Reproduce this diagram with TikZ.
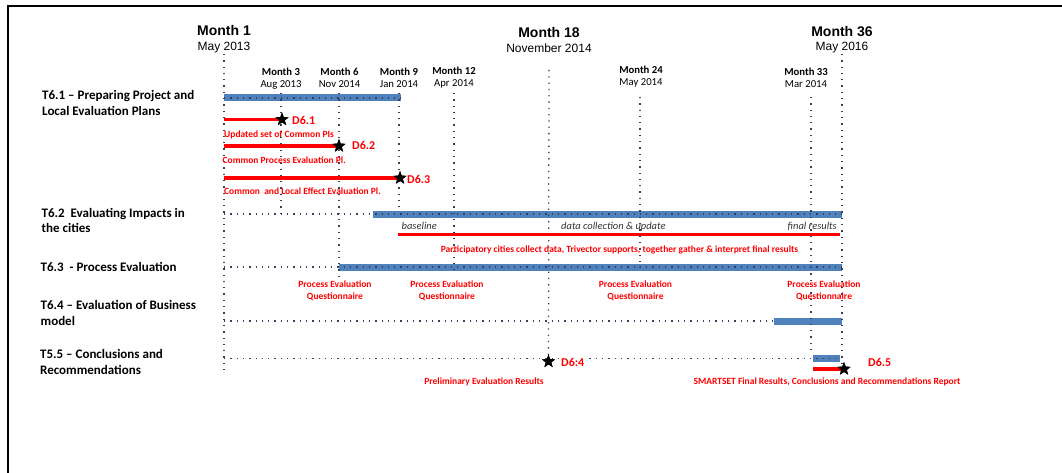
\documentclass[tikz,border=0pt]{standalone}
\usepackage{fontspec}
\setmainfont{Carlito}
\newfontfamily\arialf{Liberation Sans}
\usetikzlibrary{shapes.geometric}
\definecolor{barblue}{HTML}{4F81BD}
\definecolor{dotc}{HTML}{3C3C5C}
\definecolor{phasec}{HTML}{333333}
\begin{document}
\begin{tikzpicture}[x=1pt,y=-1pt,
  dotline/.style={dotc, line width=1.3pt, dash pattern=on 1.3pt off 5pt},
  bar/.style={barblue, line width=7pt},
  redline/.style={red, line width=3.5pt},
  mstar/.style={star, star points=5, star point ratio=2.4, fill=black, inner sep=0pt, minimum size=14pt},
  bigm/.style={font=\arialf\bfseries\fontsize{14}{16}\selectfont, anchor=base, inner sep=0pt},
  bigd/.style={font=\arialf\fontsize{12}{14}\selectfont, anchor=base, inner sep=0pt},
  smallm/.style={font=\bfseries\fontsize{10.7}{12}\selectfont, anchor=base, inner sep=0pt},
  smalld/.style={font=\fontsize{10.7}{12}\selectfont, anchor=base, inner sep=0pt},
  task/.style={font=\bfseries\fontsize{13}{15}\selectfont, anchor=base west, inner sep=0pt},
  dlabel/.style={red, font=\bfseries\fontsize{12}{14}\selectfont, anchor=base west, inner sep=0pt},
  note/.style={red, font=\bfseries\fontsize{9.5}{11}\selectfont, inner sep=0pt},
  phase/.style={phasec, font=\itshape\fontsize{10.5}{12}\selectfont, anchor=base west, inner sep=0pt}
]
\useasboundingbox (0,0) rectangle (1062,473);
\draw[line width=2pt] (8,473) -- (8,6) -- (1062,6);

% ---- headers
\node[bigm] (h1) at (224,36) {Month 1};
\node[bigd] (h1d) at (224,51) {May 2013};
\node[bigm] (h18) at (549,38) {Month 18};
\node[bigd] (h18d) at (549,53) {November 2014};
\node[bigm] (h36) at (842,37) {Month 36};
\node[bigd] (h36d) at (842,51) {May 2016};

\node[smallm] (m3) at (281,76) {Month 3};
\node[smalld] (m3d) at (281,88) {Aug 2013};
\node[smallm] (m6) at (339.5,76) {Month 6};
\node[smalld] (m6d) at (339.5,88) {Nov 2014};
\node[smallm] (m9) at (399,76) {Month 9};
\node[smalld] (m9d) at (399,88) {Jan 2014};
\node[smallm] (m12) at (454,75) {Month 12};
\node[smalld] (m12d) at (454,87) {Apr 2014};
\node[smallm] (m24) at (641,74) {Month 24};
\node[smalld] (m24d) at (641,86) {May 2014};
\node[smallm] (m33) at (806,76) {Month 33};
\node[smalld] (m33d) at (806,88) {Mar 2014};

% ---- task labels
\node[task] (t61a) at (42,100) {T6.1 – Preparing Project and};
\node[task] (t61b) at (42,116) {Local Evaluation Plans};
\node[task] (t62a) at (41.5,217) {T6.2\ \ Evaluating Impacts in};
\node[task] (t62b) at (41.5,232) {the cities};
\node[task] (t63) at (40.5,271) {T6.3\ \ - Process Evaluation};
\node[task] (t64a) at (40.5,309) {T6.4 – Evaluation of Business};
\node[task] (t64b) at (40.5,325) {model};
\node[task] (t55a) at (40,358) {T5.5 – Conclusions and};
\node[task] (t55b) at (40,374) {Recommendations};

% ---- coordinates
\coordinate (v1t) at (224,54);   \coordinate (v1b) at (224,372);
\coordinate (v3t) at (281,93);   \coordinate (v3b) at (281,217);
\coordinate (v6t) at (339,93);   \coordinate (v6b) at (339,278);
\coordinate (v9t) at (399,93);   \coordinate (v9b) at (399,207);
\coordinate (v12t) at (454,93);  \coordinate (v12b) at (454,270);
\coordinate (v18t) at (549,70);
\coordinate (v24t) at (640,97);  \coordinate (v24b) at (640,272);
\coordinate (v33t) at (811,97);  \coordinate (v33b) at (811,355);
\coordinate (v36t) at (842,54);  \coordinate (v36b) at (842,372);

\coordinate (b1s) at (224,98);  \coordinate (b1e) at (401,98);
\coordinate (h2s) at (224,214); \coordinate (b2s) at (373,214); \coordinate (b2e) at (842,214);
\coordinate (h3s) at (224,267); \coordinate (b3s) at (339,267); \coordinate (b3e) at (842,267);
\coordinate (h4s) at (224,321); \coordinate (b4s) at (774,321); \coordinate (b4e) at (842,321);
\coordinate (h5s) at (224,358.5); \coordinate (b5s) at (813,358.5); \coordinate (b5e) at (840,358.5);
\coordinate (h5e) at (813,358.5);

\coordinate (r1s) at (224,119.5);
\coordinate (r2s) at (224,146);
\coordinate (r3s) at (224,178);
\coordinate (r4s) at (398,234.5); \coordinate (r4e) at (840,234.5);
\coordinate (r5s) at (813,369);

% ---- stars (positions)
\node[mstar] (s1) at (282,119.5) {};
\node[mstar] (s2) at (339,146) {};
\node[mstar] (s3) at (400,178) {};
\node[mstar] (s4) at (548.5,361.5) {};
\node[mstar] (s5) at (844,369) {};

% ---- blue bars
\draw[bar] (b1s) -- (b1e);
\draw[bar] (b2s) -- (b2e);
\draw[bar] (b3s) -- (b3e);
\draw[bar] (b4s) -- (b4e);
\draw[bar] (b5s) -- (b5e);

% ---- dotted grid
\draw[dotline] (v1t) -- (v1b);
\draw[dotline] (v3t) -- (v3b);
\draw[dotline] (v6t) -- (v6b);
\draw[dotline] (v9t) -- (v9b);
\draw[dotline] (v12t) -- (v12b);
\draw[dotline] (v18t) -- (s4.center);
\draw[dotline] (v24t) -- (v24b);
\draw[dotline] (v33t) -- (v33b);
\draw[dotline] (v36t) -- (v36b);
\draw[dotline] (b1s) -- (b1e);
\draw[dotline] (h2s) -- (b2e);
\draw[dotline] (h3s) -- (b3e);
\draw[dotline] (h4s) -- (b4s);
\draw[dotline] (h5s) -- (b5e);

% ---- red lines
\draw[redline] (r1s) -- (r1s -| s1.center);
\draw[redline] (r2s) -- (r2s -| s2.center);
\draw[redline] (r3s) -- (r3s -| s3.center);
\draw[redline] (r4s) -- (r4e);
\draw[redline] (r5s) -- (r5s -| s5.center);

% stars on top
\node[mstar] at (s1.center) {};
\node[mstar] at (s2.center) {};
\node[mstar] at (s3.center) {};
\node[mstar] at (s4.center) {};
\node[mstar] at (s5.center) {};

% ---- deliverable labels
\node[dlabel] (d1) at (292,125) {D6.1};
\node[dlabel] (d2) at (352,150) {D6.2};
\node[dlabel] (d3) at (407,183) {D6.3};
\node[dlabel, fill=white, inner xsep=2pt, inner ysep=2pt] (d4) at (559,366) {D6:4};
\node[dlabel] (d5) at (868,366) {D6.5};

% ---- notes
\node[note, anchor=base west] (n1) at (224,137.5) {Updated set of Common PIs};
\node[note, anchor=base west] (n2) at (222.5,164) {Common Process Evaluation Pl.};
\node[note, anchor=base west] (n3) at (224,194.5) {Common\ \ and Local Effect Evaluation Pl.};
\node[note, anchor=base] (n4) at (619.5,252) {Participatory cities collect data, Trivector supports, together gather \& interpret final results};
\node[note, anchor=base] (q1a) at (335,287) {Process Evaluation};
\node[note, anchor=base] (q1b) at (335,299) {Questionnaire};
\node[note, anchor=base] (q2a) at (447,287) {Process Evaluation};
\node[note, anchor=base] (q2b) at (447,299) {Questionnaire};
\node[note, anchor=base] (q3a) at (635.5,287) {Process Evaluation};
\node[note, anchor=base] (q3b) at (635.5,299) {Questionnaire};
\node[note, anchor=base] (q4a) at (824,287) {Process Evaluation};
\node[note, anchor=base] (q4b) at (824,299) {Questionnaire};
\node[note, anchor=base] (n5) at (484,384) {Preliminary Evaluation Results};
\node[note, anchor=base] (n6) at (827,384) {SMARTSET Final Results, Conclusions and Recommendations Report};

% ---- phase labels
\node[phase] (p1) at (401.5,229) {baseline};
\node[phase] (p2) at (561,229) {data collection \& update};
\node[phase, anchor=base east] (p3) at (837,229) {final results};
\end{tikzpicture}
\end{document}
